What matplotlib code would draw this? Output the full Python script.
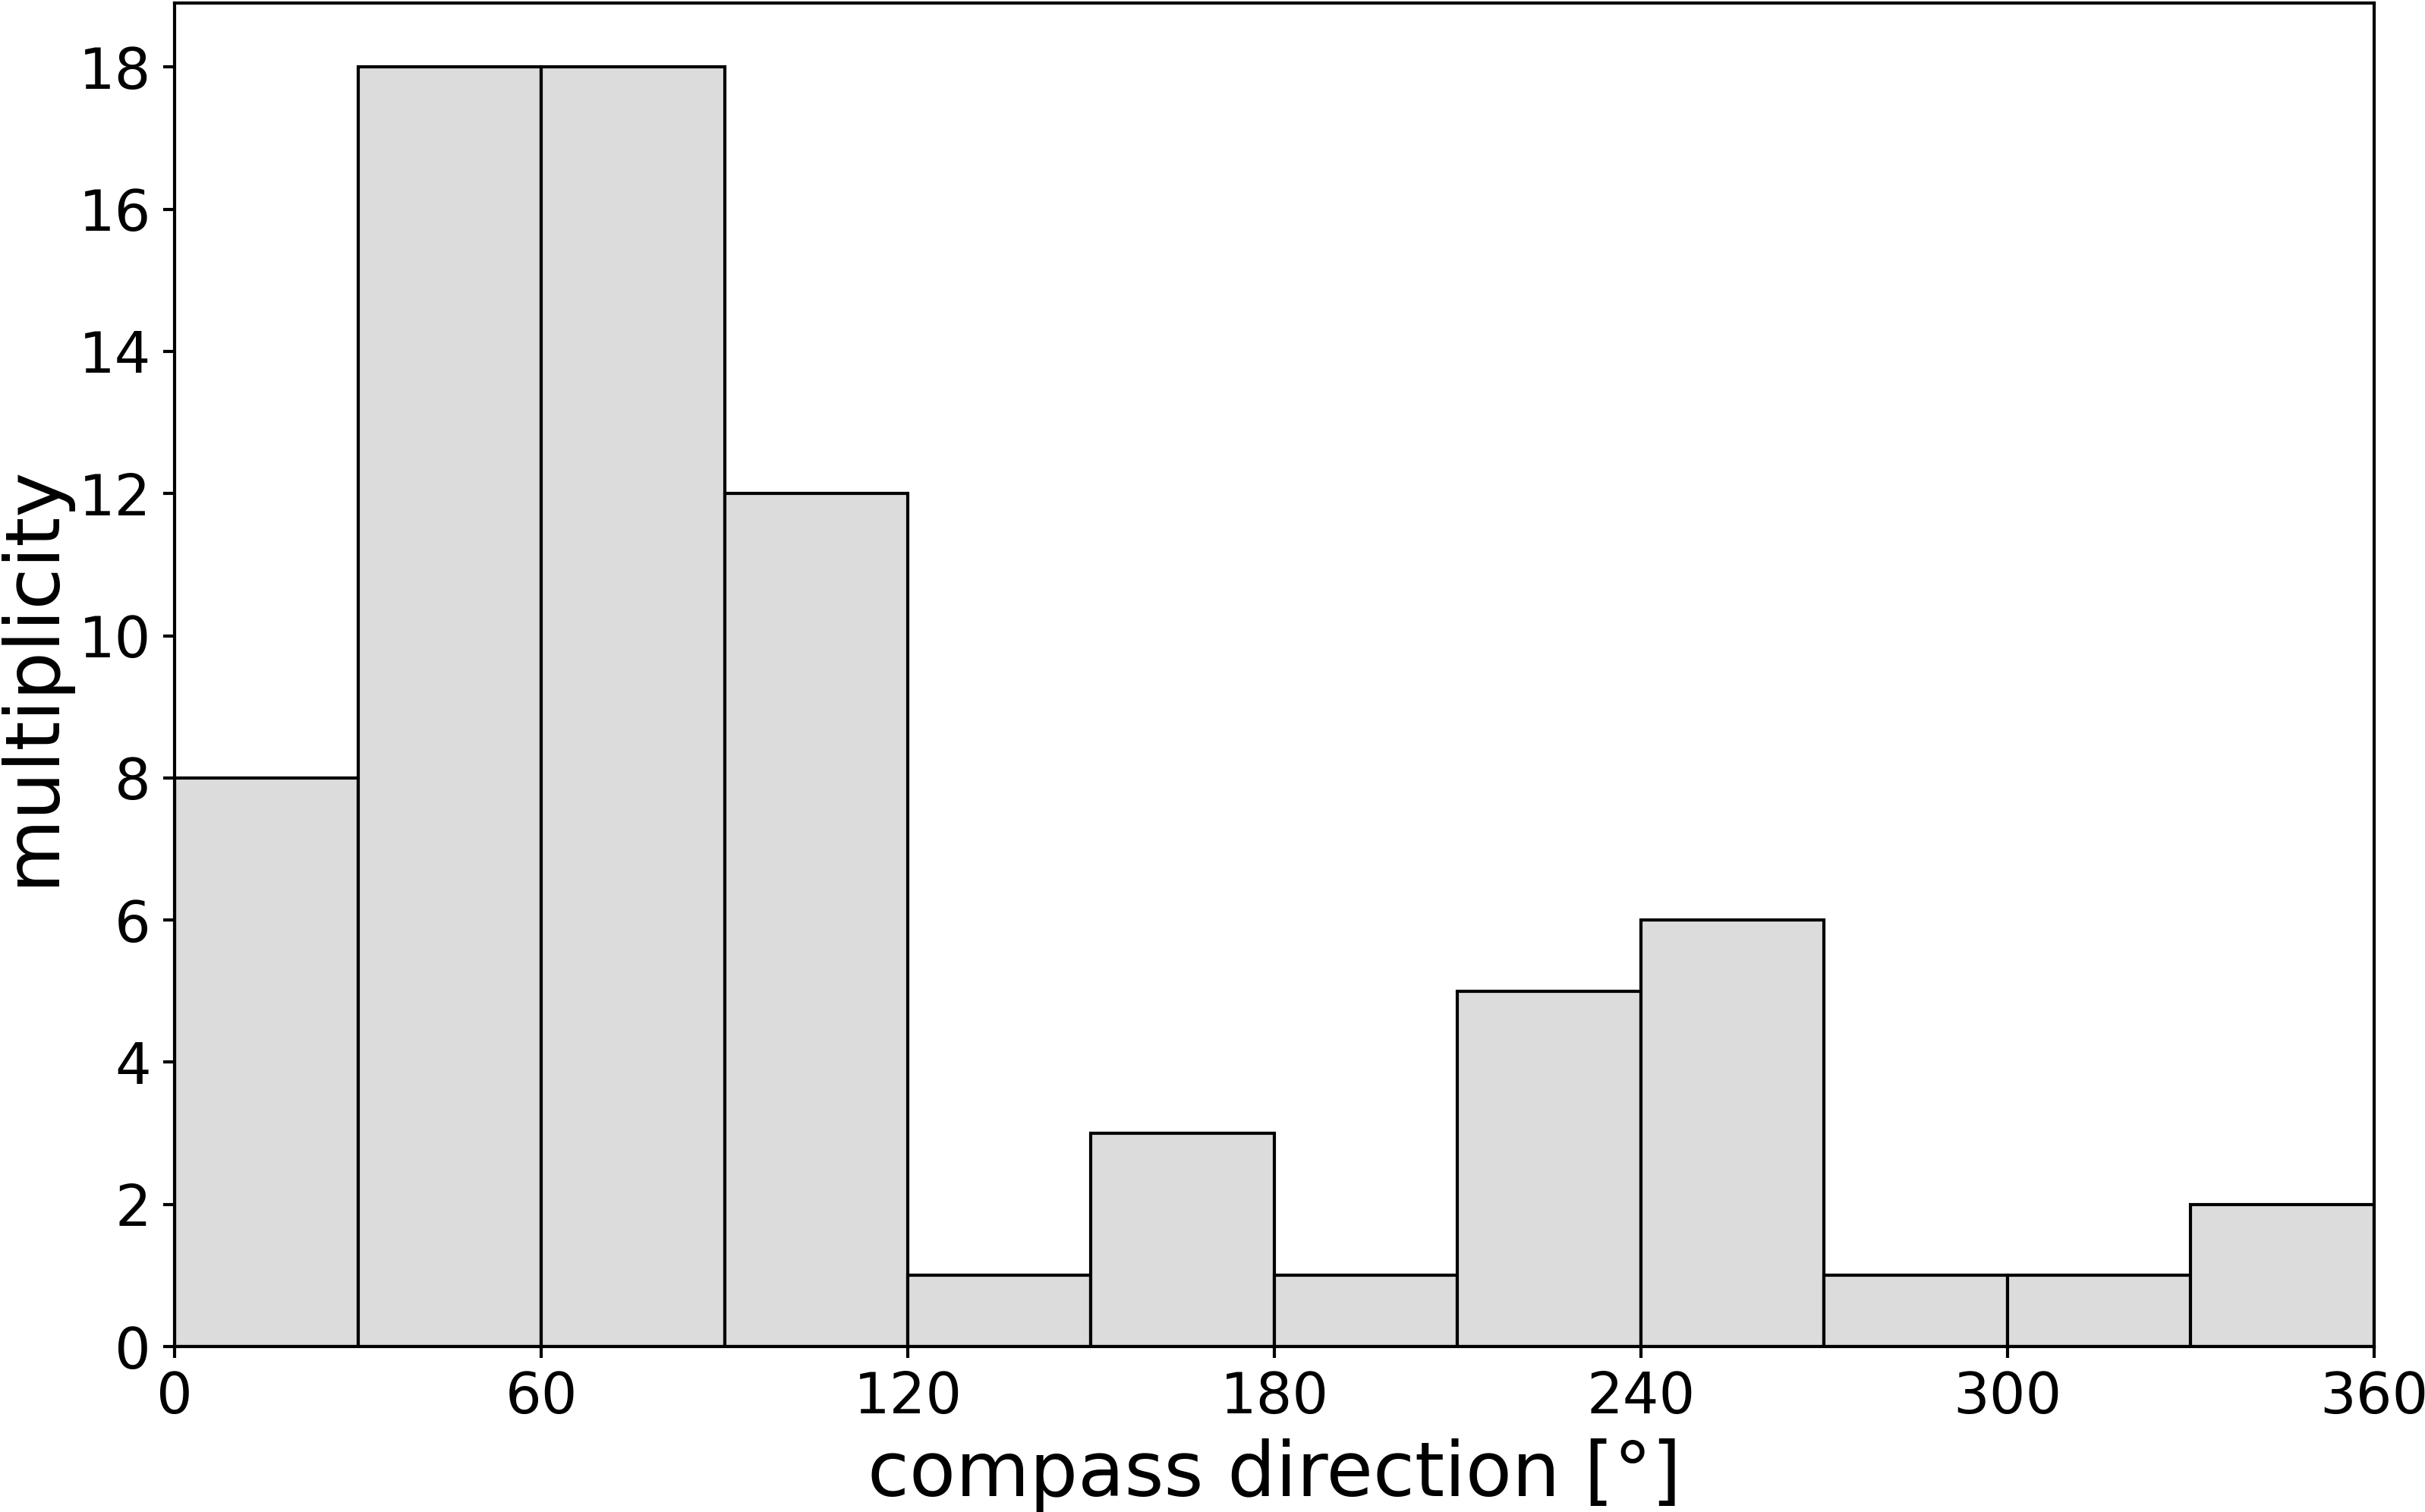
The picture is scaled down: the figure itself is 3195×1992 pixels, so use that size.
import matplotlib
matplotlib.use("Agg")
import matplotlib.pyplot as plt
import numpy as np

# histogram of compass directions, 30 degree bins
bin_edges = [0, 30, 60, 90, 120, 150, 180, 210, 240, 270, 300, 330, 360]
counts = [8, 18, 18, 12, 1, 3, 1, 5, 6, 1, 1, 2]
xticks = [0, 60, 120, 180, 240, 300, 360]
yticks = [0, 2, 4, 6, 8, 10, 12, 14, 16, 18]

fig = plt.figure(figsize=(10.65, 6.64), dpi=300)
ax = fig.add_axes([0.072, 0.1094, 0.907, 0.8886])

centers = (np.array(bin_edges[:-1]) + np.array(bin_edges[1:])) / 2
ax.hist(centers, bins=bin_edges, weights=counts,
        facecolor='gainsboro', edgecolor='black', linewidth=1.0)

ax.set_xlim(0, 360)
ax.set_xticks(xticks)
ax.set_yticks(yticks)
ax.tick_params(labelsize=18, length=3.5, width=1.0, pad=4)
for s in ax.spines.values():
    s.set_linewidth(1.0)

ax.set_xlabel("compass direction [°]", fontsize=24, labelpad=4)
ax.set_ylabel("multiplicity", fontsize=24, labelpad=3)

fig.savefig("out.png", dpi=300)
